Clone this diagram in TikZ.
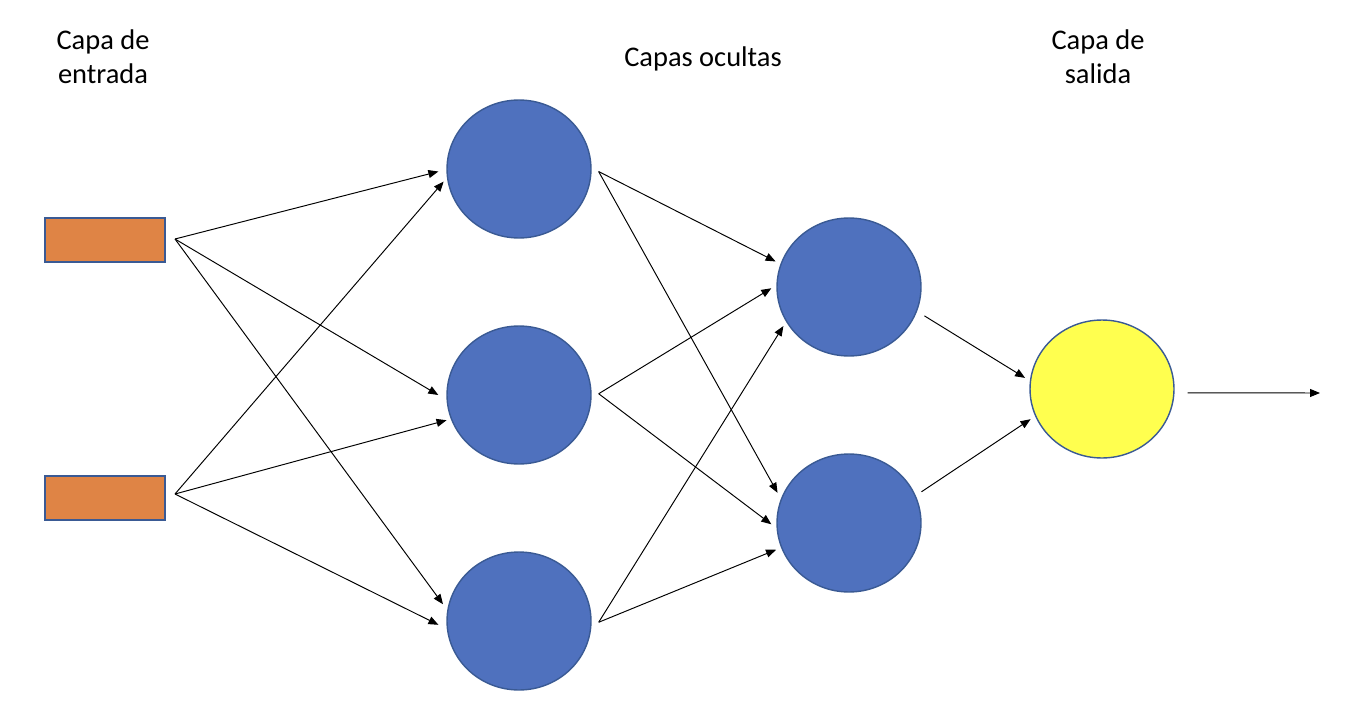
\documentclass[tikz,border=0pt]{standalone}
\usepackage{fontspec}
\setmainfont{Carlito}
\usetikzlibrary{arrows.meta,shapes.geometric,calc}
\definecolor{nblue}{HTML}{4F71BE}
\definecolor{nborder}{HTML}{3A5A94}
\definecolor{norange}{HTML}{DF8445}
\definecolor{nyellow}{HTML}{FFFF4F}
\begin{document}
\begin{tikzpicture}[x=0.02cm,y=-0.02cm,
  inbox/.style={draw=nborder,line width=1.1pt,fill=norange,minimum width=2.4cm,minimum height=0.88cm,inner sep=0pt},
  neuron/.style={ellipse,draw=nborder,line width=0.8pt,fill=nblue,minimum width=2.88cm,minimum height=2.76cm,inner sep=0pt},
  outneuron/.style={neuron,fill=nyellow},
  conn/.style={line width=0.55pt,-{Triangle[length=0.2cm,width=0.16cm]}},
  lbl/.style={font=\fontsize{16.2}{19.5}\selectfont,align=center}]
\useasboundingbox (0,0) rectangle (1372,720);
% labels
\node[lbl] (tin) at (103,57) {Capa de\\entrada};
\node[lbl] (thid) at (703,59) {Capas ocultas};
\node[lbl] (tout) at (1098,57) {Capa de\\salida};
% input
\node[inbox] (r1) at (105,240) {};
\node[inbox] (r2) at (105,498) {};
\coordinate (r1o) at (175,239);
\coordinate (r2o) at (175,494);
% hidden 1
\node[neuron] (c1) at (519,169) {};
\node[neuron] (c2) at (519,395) {};
\node[neuron] (c3) at (519,621) {};
% hidden 2
\node[neuron] (d1) at (849,287) {};
\node[neuron] (d2) at (849,523) {};
% output
\node[outneuron] (o) at (1102,389) {};
\coordinate (oend) at (1320,393);
% input -> hidden 1
\draw[conn] (r1o) -- ($(c1.182)+(-8,0)$);
\draw[conn] (r1o) -- ($(c2.180)+(-8,0)$);
\draw[conn] (r1o) -- ($(c3.165)+(-6,2)$);
\draw[conn] (r2o) -- ($(c1.194)+(-5,-5)$);
\draw[conn] (r2o) -- ($(c2.203)+(-6,-3)$);
\draw[conn] (r2o) -- ($(c3.183)+(-8,0)$);
% hidden 1 -> hidden 2
\draw[conn] ($(c1.358)+(7,0)$) -- ($(d1.161)+(-5,-2)$);
\draw[conn] ($(c1.358)+(7,0)$) -- ($(d2.157)+(-5,-2)$);
\draw[conn] ($(c2.1)+(7,0)$) -- ($(d1.181)+(-5,0)$);
\draw[conn] ($(c2.1)+(7,0)$) -- ($(d2.181)+(-5,0)$);
\draw[conn] ($(c3.359)+(7,0)$) -- ($(d1.211)+(-4,2)$);
\draw[conn] ($(c3.359)+(7,0)$) -- ($(d2.200)+(-5,2)$);
% hidden 2 -> output
\draw[conn] ($(d1.339)+(8,3)$) -- ($(o.172)+(-5,-1)$);
\draw[conn] ($(d2.23.5)+(6,-3)$) -- ($(o.203)+(-5,2)$);
% output
\draw[conn] ($(o.357)+(13,0)$) -- (oend);
\end{tikzpicture}
\end{document}
